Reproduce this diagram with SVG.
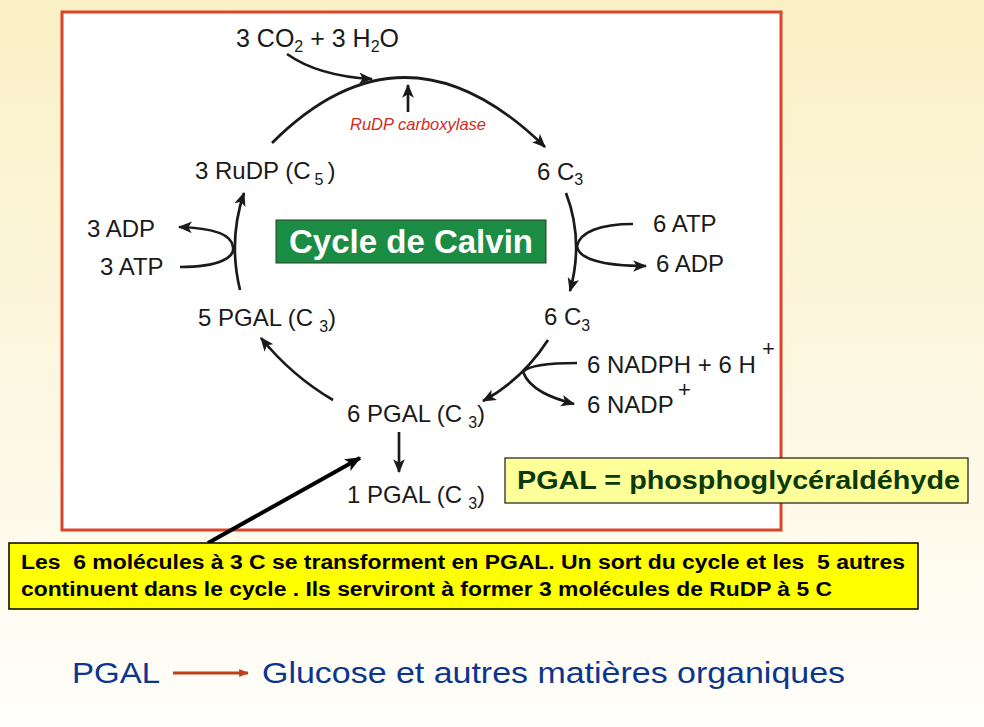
<svg xmlns="http://www.w3.org/2000/svg" width="984" height="727" viewBox="0 0 984 727">
<defs>
<linearGradient id="bg" x1="0" y1="0" x2="0" y2="1">
<stop offset="0" stop-color="#faf0c6"/>
<stop offset="1" stop-color="#fffefa"/>
</linearGradient>
<marker id="ah" viewBox="0 0 12 10" refX="11" refY="5" markerWidth="14" markerHeight="12" markerUnits="userSpaceOnUse" orient="auto">
<path d="M0,0 L12,5 L0,10 L3,5 Z" fill="#1a1a1a"/>
</marker>
<marker id="ahb" viewBox="0 0 12 10" refX="11" refY="5" markerWidth="16" markerHeight="14" markerUnits="userSpaceOnUse" orient="auto">
<path d="M0,0 L12,5 L0,10 L3,5 Z" fill="#000"/>
</marker>
<marker id="ahr" viewBox="0 0 12 10" refX="11" refY="5" markerWidth="10" markerHeight="8" markerUnits="userSpaceOnUse" orient="auto">
<path d="M0,0 L12,5 L0,10 Z" fill="#c0401a"/>
</marker>
<style>
.t{font-family:"Liberation Sans",Arial,sans-serif;font-size:24px;fill:#1a1a1a}
.sub{font-size:16px}
.c{fill:none;stroke:#1a1a1a;stroke-width:2.7}
</style>
</defs>
<rect x="0" y="0" width="984" height="727" fill="url(#bg)"/>
<rect x="62" y="12" width="719" height="518" fill="#ffffff" stroke="#d9442b" stroke-width="3"/>

<g id="connectors">
<path class="c" d="M272,143 Q405,10 545,147" marker-end="url(#ah)"/>
<path class="c" d="M287,54 Q318,76 372,79" marker-end="url(#ah)"/>
<path class="c" d="M408,112 L408,85" marker-end="url(#ah)"/>
<path class="c" d="M566,193 Q584,240 570,291" marker-end="url(#ah)"/>
<path class="c" d="M633,224 C600,224 580,232 577,246 C578,258 600,266 646,266" marker-end="url(#ah)"/>
<path class="c" d="M548,340 Q522,380 483,401" marker-end="url(#ah)"/>
<path class="c" d="M577,363 C545,363 528,366 523,372 C530,390 552,398 574,404" marker-end="url(#ah)"/>
<path class="c" d="M399,432 L399,472" marker-end="url(#ah)"/>
<path class="c" d="M333,400 Q292,376 261,338" marker-end="url(#ah)"/>
<path class="c" d="M240,290 Q228,240 244,193" marker-end="url(#ah)"/>
<path class="c" d="M180,267 C220,267 235,257 233,247 C232,235 215,228 179,227" marker-end="url(#ah)"/>
<path d="M208,543 L360,458" fill="none" stroke="#000" stroke-width="4" marker-end="url(#ahb)"/>
<path d="M173,673 L248,673" fill="none" stroke="#c0401a" stroke-width="3" marker-end="url(#ahr)"/>
</g>

<g id="n-co2"><text class="t" x="236" y="47" style="font-size:25px">3 CO<tspan class="sub" dy="5">2</tspan><tspan dy="-5"> + 3 H</tspan><tspan class="sub" dy="5">2</tspan><tspan dy="-5">O</tspan></text></g>
<g id="n-enzyme"><text x="350" y="130" style="font-family:'Liberation Sans',Arial,sans-serif;font-size:16.5px;font-style:italic;fill:#d42a1e">RuDP carboxylase</text></g>
<g id="n-rudp"><text class="t" x="195" y="179">3 RuDP (C<tspan class="sub" dx="4" dy="6">5</tspan><tspan dx="4" dy="-6">)</tspan></text></g>
<g id="n-6c3a"><text class="t" x="537" y="180">6 C<tspan class="sub" dy="5">3</tspan></text></g>
<g id="n-atp6"><text class="t" x="653" y="232">6 ATP</text></g>
<g id="n-adp6"><text class="t" x="656" y="272">6 ADP</text></g>
<g id="n-title"><rect x="276" y="220" width="270" height="43" fill="#1b8c43" stroke="#2a3a2a" stroke-width="1"/><text x="411" y="253" text-anchor="middle" style="font-family:'Liberation Sans',Arial,sans-serif;font-size:33px;font-weight:bold;fill:#ffffff">Cycle de Calvin</text></g>
<g id="n-adp3"><text class="t" x="87" y="237">3 ADP</text></g>
<g id="n-atp3"><text class="t" x="100" y="275">3 ATP</text></g>
<g id="n-5pgal"><text class="t" x="198" y="326">5 PGAL (C<tspan class="sub" dx="6" dy="6">3</tspan><tspan dy="-6">)</tspan></text></g>
<g id="n-6c3b"><text class="t" x="544" y="325">6 C<tspan class="sub" dy="6">3</tspan></text></g>
<g id="n-nadph"><text class="t" x="587" y="373">6 NADPH + 6 H</text><text class="t" x="762" y="356" style="font-size:22px">+</text></g>
<g id="n-nadp"><text class="t" x="587" y="413">6 NADP</text><text class="t" x="678" y="397" style="font-size:22px">+</text></g>
<g id="n-6pgal"><text class="t" x="347" y="422">6 PGAL (C<tspan class="sub" dx="6" dy="6">3</tspan><tspan dy="-6">)</tspan></text></g>
<g id="n-1pgal"><text class="t" x="347" y="503">1 PGAL (C<tspan class="sub" dx="6" dy="6">3</tspan><tspan dy="-6">)</tspan></text></g>
<g id="n-def"><rect x="505" y="458" width="463" height="45" fill="#ffff99" stroke="#1a1a1a" stroke-width="1.2"/><text x="517" y="489" textLength="443" lengthAdjust="spacingAndGlyphs" style="font-family:'Liberation Sans',Arial,sans-serif;font-size:25px;font-weight:bold;fill:#0a3a0a">PGAL = phosphoglycéraldéhyde</text></g>
<g id="n-note"><rect x="9" y="543" width="909" height="66" fill="#ffff00" stroke="#000" stroke-width="1.5"/>
<text x="21" y="569" textLength="884" lengthAdjust="spacingAndGlyphs" style="font-family:'Liberation Sans',Arial,sans-serif;font-size:19.5px;font-weight:bold;fill:#000;white-space:pre" xml:space="preserve">Les  6 molécules à 3 C se transforment en PGAL. Un sort du cycle et les  5 autres</text>
<text x="21" y="596" textLength="811" lengthAdjust="spacingAndGlyphs" style="font-family:'Liberation Sans',Arial,sans-serif;font-size:19.5px;font-weight:bold;fill:#000">continuent dans le cycle . Ils serviront à former 3 molécules de RuDP à 5 C</text></g>
<g id="n-bottom"><text x="72" y="683" textLength="88" lengthAdjust="spacingAndGlyphs" style="font-family:'Liberation Sans',Arial,sans-serif;font-size:29px;fill:#0c3590">PGAL</text>
<text x="262" y="683" textLength="583" lengthAdjust="spacingAndGlyphs" style="font-family:'Liberation Sans',Arial,sans-serif;font-size:29px;fill:#0c3590">Glucose et autres matières organiques</text></g>
</svg>
